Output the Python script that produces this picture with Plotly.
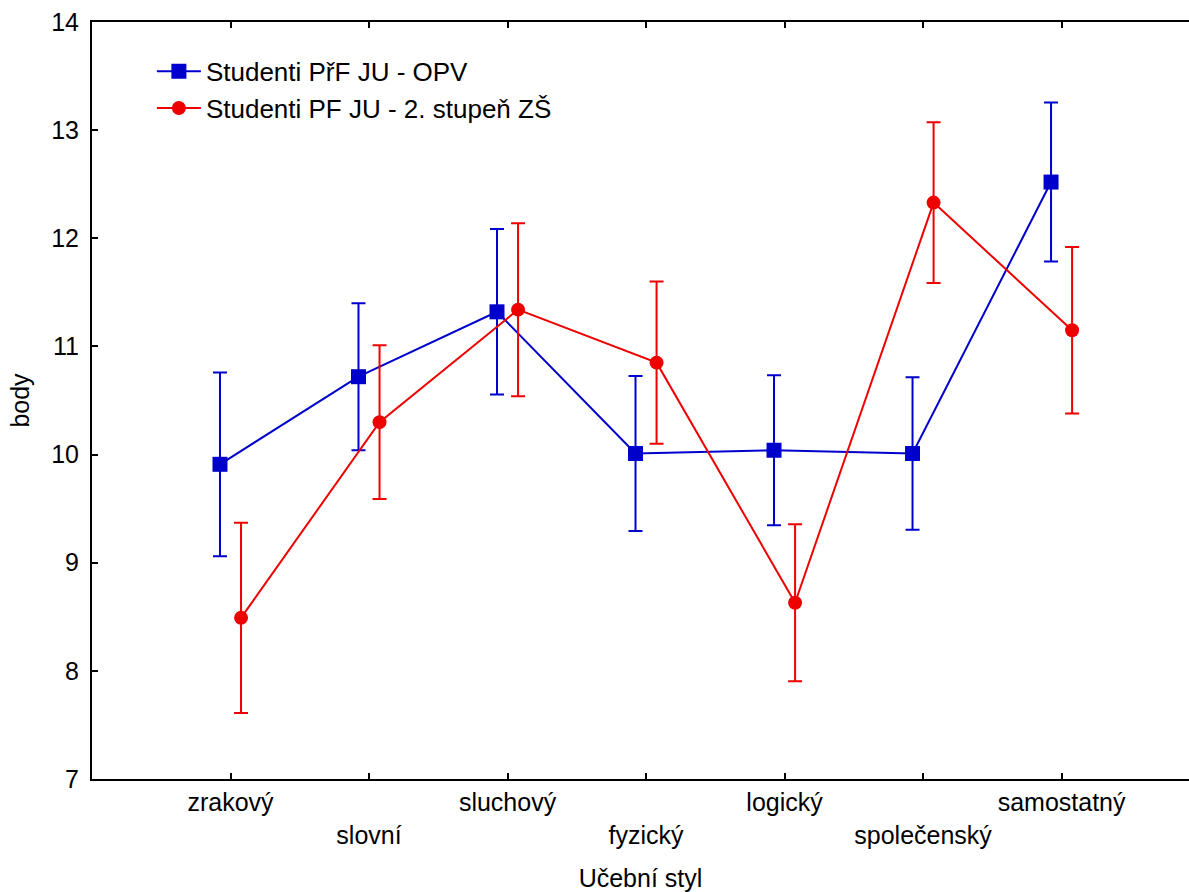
import plotly.graph_objects as go

categories = ["zrakový", "slovní", "sluchový", "fyzický", "logický", "společenský", "samostatný"]
blue_name = "Studenti PřF JU - OPV"
red_name = "Studenti PF JU - 2. stupeň ZŠ"
blue_mean = [9.91, 10.72, 11.32, 10.01, 10.04, 10.01, 12.52]
blue_err = [0.85, 0.68, 0.765, 0.716, 0.694, 0.705, 0.735]
red_mean = [8.49, 10.30, 11.34, 10.85, 8.63, 12.33, 11.15]
red_err = [0.88, 0.71, 0.80, 0.75, 0.725, 0.743, 0.77]

offset = 0.076
idx = list(range(len(categories)))
xb = [i - offset for i in idx]
xr = [i + offset for i in idx]
ticktext = [c if i % 2 == 0 else "<br>" + c for i, c in enumerate(categories)]

BLUE = "#0000CC"
RED = "#EE0000"
FONT = "Liberation Sans, Arial, sans-serif"

fig = go.Figure()
fig.add_trace(go.Scatter(
    x=xb, y=blue_mean, name=blue_name, mode="lines+markers",
    line=dict(color=BLUE, width=2),
    marker=dict(symbol="square", size=15, color=BLUE),
    error_y=dict(type="data", array=blue_err, visible=True, color=BLUE, thickness=2, width=7),
))
fig.add_trace(go.Scatter(
    x=xr, y=red_mean, name=red_name, mode="lines+markers",
    line=dict(color=RED, width=2),
    marker=dict(symbol="circle", size=14, color=RED),
    error_y=dict(type="data", array=red_err, visible=True, color=RED, thickness=2, width=7),
))

fig.update_layout(
    width=1189, height=892,
    margin=dict(l=92, r=0, t=22, b=113),
    paper_bgcolor="white", plot_bgcolor="white",
    font=dict(family=FONT, size=25, color="black"),
    showlegend=True,
    legend=dict(x=0.0546, y=0.966, xanchor="left", yanchor="top",
                bgcolor="rgba(0,0,0,0)", borderwidth=0,
                font=dict(size=26), itemwidth=44, tracegroupgap=0),
    xaxis=dict(
        range=[-1, 6.92], tickmode="array", tickvals=idx, ticktext=ticktext,
        showgrid=False, zeroline=False, showline=True, linecolor="black", linewidth=2,
        mirror="ticks", ticks="inside", ticklen=6, tickwidth=1.5, tickcolor="black",
        tickfont=dict(size=25),
        title=dict(text="Učební styl", font=dict(size=25), standoff=22),
    ),
    yaxis=dict(
        range=[7, 14], tickmode="linear", tick0=7, dtick=1,
        showgrid=False, zeroline=False, showline=True, linecolor="black", linewidth=2,
        mirror=False, ticks="inside", ticklen=6, tickwidth=1.5, tickcolor="black",
        tickfont=dict(size=25), ticklabelstandoff=6,
        title=dict(text="body", font=dict(size=25), standoff=14),
    ),
)

fig.write_html("out.html")
